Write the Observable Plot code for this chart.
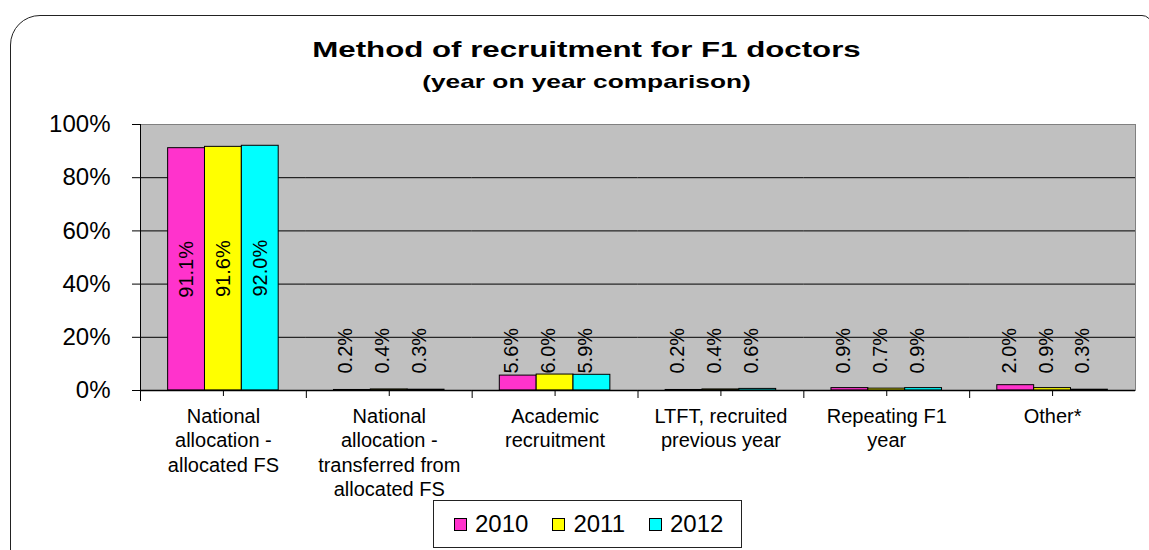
<!DOCTYPE html>
<html>
<head>
<meta charset="utf-8">
<script src="https://cdn.jsdelivr.net/npm/d3@7"></script>
<script src="https://cdn.jsdelivr.net/npm/@observablehq/plot@0.6"></script>
<style>
  html, body { margin: 0; padding: 0; background: #fff; }
  body { width: 1149px; height: 550px; overflow: hidden; position: relative; font-family: "Liberation Sans", Arial, sans-serif; }
  #border { position: absolute; left: 10px; top: 15px; width: 1142px; height: 600px; border: 1.5px solid #222; border-top-left-radius: 30px; border-top-right-radius: 10px; box-sizing: border-box; }
  .ttl { position: absolute; left: 0; width: 1173px; text-align: center; font-weight: bold; color: #000; transform: scaleX(1.42); transform-origin: 586.5px 0; white-space: nowrap; }
  #title { top: 39px; font-size: 22px; line-height: 22px; }
  #subtitle { top: 72.6px; font-size: 18.5px; line-height: 18.5px; }
  #chart { position: absolute; left: 0; top: 100px; }
  #legend { position: absolute; left: 433px; top: 500px; width: 309px; height: 48px; border: 1px solid #222; box-sizing: border-box; background: #fff; display: flex; align-items: center; padding-left: 20px; }
  .item { display: flex; align-items: center; margin-right: 24px; font-size: 24px; color: #000; }
  .sw { width: 13px; height: 13px; border: 1.5px solid #000; box-sizing: border-box; margin-right: 8px; }
</style>
</head>
<body>
<div id="border"></div>
<div id="title" class="ttl">Method of recruitment for F1 doctors</div>
<div id="subtitle" class="ttl">(year on year comparison)</div>
<div id="chart"></div>
<div id="legend"></div>
<script>
const categories = [
  "National allocation - allocated FS",
  "National allocation - transferred from allocated FS",
  "Academic recruitment",
  "LTFT, recruited previous year",
  "Repeating F1 year",
  "Other*"
];
const tickLabels = [
  "National\nallocation -\nallocated FS",
  "National\nallocation -\ntransferred from\nallocated FS",
  "Academic\nrecruitment",
  "LTFT, recruited\nprevious year",
  "Repeating F1\nyear",
  "Other*"
];
const years = ["2010", "2011", "2012"];
const values2010 = [91.1, 0.2, 5.6, 0.2, 0.9, 2.0];
const values2011 = [91.6, 0.4, 6.0, 0.4, 0.7, 0.9];
const values2012 = [92.0, 0.3, 5.9, 0.6, 0.9, 0.3];
const colors = ["#ff33cc", "#ffff00", "#00ffff"];
const yTicks = [0, 20, 40, 60, 80, 100];
const gridValues = [20, 40, 60, 80];

const series = [values2010, values2011, values2012];
const table = [];
categories.forEach((c, i) => {
  years.forEach((y, j) => table.push({category: c, year: y, value: series[j][i]}));
});

const fmt = d => d.value.toFixed(1) + "%";

const chart = Plot.plot({
  width: 1149,
  height: 390,
  marginLeft: 140,
  marginRight: 14,
  marginTop: 24,
  marginBottom: 100,
  style: {fontFamily: "Liberation Sans, Arial, sans-serif", background: "transparent", color: "#000", overflow: "visible"},
  facet: {data: table, x: "category"},
  fx: {domain: categories, padding: 0, round: false},
  x: {domain: years, paddingInner: 0, paddingOuter: 0.75, round: false, axis: null},
  y: {domain: [0, 100]},
  color: {domain: years, range: colors},
  marks: [
    Plot.frame({facet: "super", fill: "#c0c0c0", stroke: "#808080"}),
    Plot.ruleY(gridValues, {stroke: "#000", strokeWidth: 1}),
    Plot.barY(table, {x: "year", y: "value", fill: "year", stroke: "#000", strokeWidth: 1}),
    Plot.text(table, {filter: d => d.value > 50, x: "year", y: d => d.value / 2, text: fmt, rotate: -90, textAnchor: "middle", fontSize: 20, fill: "#000"}),
    Plot.text(table, {filter: d => d.value <= 50, x: "year", frameAnchor: "bottom", dy: -17, text: fmt, rotate: -90, textAnchor: "start", fontSize: 20, fill: "#000"}),
    Plot.ruleY([0], {stroke: "#000", strokeWidth: 1.5}),
    Plot.frame({anchor: "left", stroke: "#000", insetTop: 266, insetBottom: -7}),
    Plot.frame({facet: "super", anchor: "left", stroke: "#000", insetBottom: -10}),
    Plot.axisY({ticks: yTicks, tickFormat: d => d + "%", tickSize: 8, tickPadding: 22, fontSize: 24, label: null}),
    Plot.axisFx({anchor: "bottom", tickSize: 6, tickPadding: 9, fontSize: 20, lineHeight: 1.22, tickFormat: d => tickLabels[categories.indexOf(d)], label: null})
  ]
});
document.getElementById("chart").appendChild(chart);

const legend = document.getElementById("legend");
years.forEach((y, i) => {
  const item = document.createElement("div");
  item.className = "item";
  const sw = document.createElement("div");
  sw.className = "sw";
  sw.style.background = colors[i];
  const t = document.createElement("span");
  t.textContent = y;
  item.appendChild(sw);
  item.appendChild(t);
  legend.appendChild(item);
});
</script>
</body>
</html>
